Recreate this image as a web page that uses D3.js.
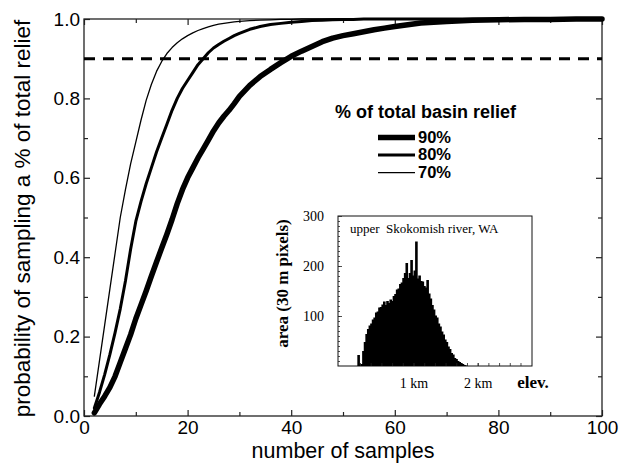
<!DOCTYPE html>
<html>
<head>
<meta charset="utf-8">
<script src="https://cdn.jsdelivr.net/npm/d3@7"></script>
<style>
  body { margin: 0; background: #fff; }
  svg text { font-family: "Liberation Sans", Arial, Helvetica, sans-serif; fill: #000; }
  .serif { font-family: "Liberation Serif", "Times New Roman", serif; }
  .grid line { stroke: #222; stroke-width: 1.2; }
  .grid path { display: none; }
</style>
</head>
<body>
<div id="chart"></div>
<script>
// main curves: probability vs number of samples
var samples = [2, 3, 4, 5, 6, 7, 8, 9, 10, 11, 12, 13, 14, 15, 16, 17, 18, 19, 20,
  21, 22, 23, 24, 25, 26, 27, 28, 29, 30,
  32, 34, 36, 38, 40, 42, 44, 46, 48, 50, 52, 54, 56, 58, 60,
  65, 70, 75, 80, 85, 90, 95, 100];

var relief70 = [0.05, 0.14, 0.23, 0.32, 0.41, 0.50, 0.57, 0.635, 0.69, 0.745, 0.795, 0.835, 0.868, 0.893, 0.913, 0.928, 0.94, 0.95, 0.958,
  0.965, 0.971, 0.976, 0.98, 0.984, 0.987, 0.989, 0.991, 0.993, 0.994,
  0.996, 0.997, 0.998, 0.999, 0.999, 1, 1, 1, 1, 1, 1, 1, 1, 1, 1,
  1, 1, 1, 1, 1, 1, 1, 1];

var relief80 = [0.02, 0.06, 0.105, 0.155, 0.21, 0.27, 0.34, 0.42, 0.49, 0.54, 0.585, 0.625, 0.665, 0.70, 0.735, 0.77, 0.80, 0.825, 0.845,
  0.865, 0.885, 0.90, 0.915, 0.927, 0.936, 0.944, 0.951, 0.958, 0.964,
  0.974, 0.981, 0.986, 0.989, 0.992, 0.994, 0.996, 0.997, 0.998, 0.999, 0.999, 1, 1, 1, 1,
  1, 1, 1, 1, 1, 1, 1, 1];

var relief90 = [0.008, 0.03, 0.05, 0.072, 0.10, 0.135, 0.17, 0.205, 0.245, 0.28, 0.315, 0.352, 0.388, 0.423, 0.458, 0.495, 0.535, 0.57, 0.60,
  0.625, 0.65, 0.672, 0.695, 0.718, 0.738, 0.755, 0.77, 0.787, 0.805,
  0.833, 0.855, 0.873, 0.89, 0.906, 0.919, 0.931, 0.943, 0.952, 0.958, 0.963, 0.968, 0.973, 0.977, 0.981,
  0.99, 0.994, 0.997, 0.998, 0.999, 0.999, 1, 1];

var threshold = 0.9;
var xTicks = [0, 20, 40, 60, 80, 100];
var xMinor = [10, 30, 50, 70, 90];
var yTicks = [0, 0.2, 0.4, 0.6, 0.8, 1.0];
var yMinor = [0.1, 0.3, 0.5, 0.7, 0.9];
var legendLabels = ["90%", "80%", "70%"];

// inset: elevation histogram (km, pixel counts)
var histStartKm = 0.125;
var histBinKm = 0.025;
var histCounts = [22, 3, 4, 30, 48, 64, 74, 81, 85, 93, 97, 107, 109, 117, 118, 123, 129, 122, 130, 126,
  133, 130, 140, 144, 153, 155, 164, 167, 176, 186, 206, 176, 186, 212, 181, 191, 249, 175, 181, 170,
  169, 160, 157, 172, 145, 135, 122, 113, 101, 97, 85, 79, 69, 63, 53, 48, 39, 34, 26, 23,
  16, 14, 10, 8, 6, 4, 2, 1];
var insetYTicks = [100, 200, 300];
var insetXTicks = [1, 2];
var insetXLabels = ["1 km", "2 km"];

var margin = {top: 19, left: 84},
    width = 518,
    height = 397;

var svg = d3.select("#chart").append("svg")
  .attr("width", 624)
  .attr("height", 463);

var g = svg.append("g")
  .attr("transform", "translate(" + margin.left + "," + margin.top + ")");

var x = d3.scaleLinear().domain([0, 100]).range([0, width]);
var y = d3.scaleLinear().domain([0, 1]).range([height, 0]);

// inward ticks on all four sides
g.append("g").attr("class", "grid")
  .attr("transform", "translate(0," + height + ")")
  .call(d3.axisBottom(x).tickValues(xTicks).tickSizeInner(-6).tickSizeOuter(0)
    .tickPadding(5).tickFormat(d3.format("d")))
  .selectAll("text").style("font-size", "19px");
g.append("g").attr("class", "grid")
  .attr("transform", "translate(0," + height + ")")
  .call(d3.axisBottom(x).tickValues(xMinor).tickSize(-4).tickFormat(""));
g.append("g").attr("class", "grid")
  .call(d3.axisTop(x).tickValues(xTicks).tickSize(-6).tickFormat(""));
g.append("g").attr("class", "grid")
  .call(d3.axisTop(x).tickValues(xMinor).tickSize(-4).tickFormat(""));

g.append("g").attr("class", "grid")
  .call(d3.axisLeft(y).tickValues(yTicks).tickSizeInner(-6).tickSizeOuter(0)
    .tickPadding(4).tickFormat(d3.format(".1f")))
  .selectAll("text").style("font-size", "19px");
g.append("g").attr("class", "grid")
  .call(d3.axisLeft(y).tickValues(yMinor).tickSize(-4).tickFormat(""));
g.append("g").attr("class", "grid")
  .attr("transform", "translate(" + width + ",0)")
  .call(d3.axisRight(y).tickValues(yTicks).tickSize(-6).tickFormat(""));
g.append("g").attr("class", "grid")
  .attr("transform", "translate(" + width + ",0)")
  .call(d3.axisRight(y).tickValues(yMinor).tickSize(-4).tickFormat(""));

// frame
g.append("rect")
  .attr("width", width)
  .attr("height", height)
  .attr("fill", "none")
  .attr("stroke", "#222")
  .attr("stroke-width", 1.3);

// axis labels
svg.append("text")
  .attr("x", margin.left + width / 2)
  .attr("y", 458.3)
  .style("text-anchor", "middle")
  .style("font-size", "21.5px")
  .text("number of samples");

svg.append("text")
  .attr("transform", "translate(30," + (margin.top + height / 2 + 1) + ") rotate(-90)")
  .style("text-anchor", "middle")
  .style("font-size", "22.5px")
  .text("probability of sampling a % of total relief");

// 0.9 reference line
g.append("line")
  .attr("x1", x(0))
  .attr("x2", x(100))
  .attr("y1", y(threshold))
  .attr("y2", y(threshold))
  .attr("stroke", "#000")
  .attr("stroke-width", 3)
  .attr("stroke-dasharray", "11,8");

var series = [
  {label: legendLabels[0], values: relief90, w: 5.5},
  {label: legendLabels[1], values: relief80, w: 3},
  {label: legendLabels[2], values: relief70, w: 1.3}
];

var line = d3.line()
  .x(function(d, i) { return x(samples[i]); })
  .y(function(d) { return y(d); });

g.selectAll(".curve").data(series).enter().append("path")
  .attr("class", "curve")
  .attr("d", function(d) { return line(d.values); })
  .attr("fill", "none")
  .attr("stroke", "#000")
  .attr("stroke-linejoin", "round")
  .attr("stroke-linecap", "round")
  .attr("stroke-width", function(d) { return d.w; });

// legend
var legend = svg.append("g");
legend.append("text")
  .attr("x", 335)
  .attr("y", 118)
  .style("font-size", "18px")
  .style("font-weight", "bold")
  .text("% of total basin relief");

var items = legend.selectAll(".item").data(series).enter().append("g")
  .attr("class", "item")
  .attr("transform", function(d, i) { return "translate(0," + (137.5 + i * 17.6) + ")"; });
items.append("line")
  .attr("x1", 378)
  .attr("x2", 415)
  .attr("stroke", "#000")
  .attr("stroke-width", function(d) { return d.w; });
items.append("text")
  .attr("x", 418)
  .attr("y", 5)
  .style("font-size", "16.5px")
  .style("font-weight", "bold")
  .text(function(d) { return d.label; });

// inset histogram
var ix = d3.scaleLinear().domain([-0.176, 2.846]).range([338, 532]);
var iy = d3.scaleLinear().domain([0, 300]).range([366, 216]);

var inset = svg.append("g");
inset.append("rect")
  .attr("x", ix.range()[0])
  .attr("y", iy.range()[1])
  .attr("width", ix.range()[1] - ix.range()[0])
  .attr("height", iy.range()[0] - iy.range()[1])
  .attr("fill", "#fff")
  .attr("stroke", "#111")
  .attr("stroke-width", 1);

// bins overlap by a pixel so no light seams appear between them
inset.selectAll(".bin").data(histCounts).enter().append("rect")
  .attr("class", "bin")
  .attr("x", function(d, i) { return ix(histStartKm + i * histBinKm); })
  .attr("width", ix(histBinKm) - ix(0) + 1)
  .attr("y", function(d) { return iy(d); })
  .attr("height", function(d) { return iy(0) - iy(d); })
  .attr("fill", "#000");

inset.append("g").attr("class", "grid serif")
  .attr("transform", "translate(" + ix.range()[0] + ",0)")
  .call(d3.axisLeft(iy).tickValues(insetYTicks).tickSizeInner(-4).tickSizeOuter(0).tickPadding(14))
  .selectAll("text").attr("class", "serif").style("font-size", "14px");
inset.append("g").attr("class", "grid")
  .attr("transform", "translate(" + ix.range()[0] + ",0)")
  .call(d3.axisLeft(iy).tickValues(d3.range(10, 300, 10)).tickSize(-2).tickFormat(""));

inset.append("g").attr("class", "grid")
  .attr("transform", "translate(0," + iy.range()[0] + ")")
  .call(d3.axisBottom(ix).tickValues(insetXTicks).tickSizeInner(-3).tickSizeOuter(0).tickPadding(12)
    .tickFormat(function(d, i) { return insetXLabels[i]; }))
  .selectAll("text").attr("class", "serif").style("font-size", "14px");
inset.append("g").attr("class", "grid")
  .attr("transform", "translate(0," + iy.range()[0] + ")")
  .call(d3.axisBottom(ix).tickValues(d3.range(1, 17).map(function(k) { return k / 6; })).tickSize(-3).tickFormat(""));
inset.selectAll(".grid line").style("stroke-width", 0.8);

inset.append("text")
  .attr("class", "serif")
  .attr("x", 350)
  .attr("y", 233)
  .style("font-size", "13px")
  .style("white-space", "pre")
  .text("upper  Skokomish river, WA");

inset.append("text")
  .attr("class", "serif")
  .attr("x", 533)
  .attr("y", 388)
  .style("text-anchor", "middle")
  .style("font-size", "17px")
  .style("font-weight", "bold")
  .text("elev.");

inset.append("text")
  .attr("class", "serif")
  .attr("transform", "translate(288,283.5) rotate(-90)")
  .style("text-anchor", "middle")
  .style("font-size", "17px")
  .style("font-weight", "bold")
  .text("area (30 m pixels)");
</script>
</body>
</html>
